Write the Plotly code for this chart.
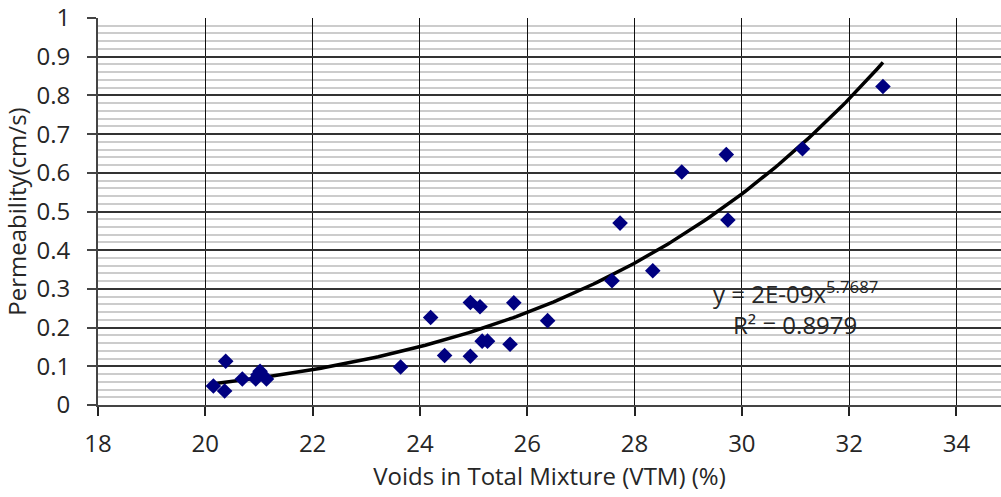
import numpy as np
import plotly.graph_objects as go

# Data
vtm = [20.15, 20.38, 20.36, 20.69, 20.94, 21.02, 20.98, 21.14,
       23.64, 24.20, 24.46, 24.94, 24.94, 25.12, 25.16, 25.26, 25.68, 25.75,
       26.38, 27.58, 27.73, 28.34, 28.88, 29.71, 29.74, 31.13, 32.63]
perm = [0.049, 0.113, 0.036, 0.067, 0.067, 0.087, 0.078, 0.067,
        0.098, 0.226, 0.128, 0.265, 0.126, 0.254, 0.165, 0.165, 0.157, 0.264,
        0.218, 0.321, 0.470, 0.347, 0.602, 0.647, 0.478, 0.662, 0.823]

eq_text = "y = 2E-09x<sup>5.7687</sup>"
r2_text = "R² = 0.8979"
x_title = "Voids in Total Mixture (VTM) (%)"
y_title = "Permeability(cm/s)"

# Power trendline fitted to the data (least squares in log-log space)
x_arr = np.array(vtm)
y_arr = np.array(perm)
b, ln_a = np.polyfit(np.log(x_arr), np.log(y_arr), 1)
xf = np.linspace(x_arr.min(), x_arr.max(), 200)
yf = np.exp(ln_a) * xf ** b

FONT = "Open Sans"
TXT = "#262626"
FS = 24

fig = go.Figure()
fig.add_trace(go.Scatter(x=xf, y=yf, mode="lines",
                         line=dict(color="black", width=3.5),
                         hoverinfo="skip", showlegend=False))
fig.add_trace(go.Scatter(x=vtm, y=perm, mode="markers",
                         marker=dict(symbol="diamond", size=12, color="#000080"),
                         showlegend=False))

fig.add_annotation(x=29.42, y=0.292, text=eq_text, showarrow=False,
                   xanchor="left", yanchor="middle",
                   font=dict(family=FONT, size=FS, color=TXT))
fig.add_annotation(x=29.8, y=0.207, text=r2_text, showarrow=False,
                   xanchor="left", yanchor="middle",
                   font=dict(family=FONT, size=FS, color=TXT))

fig.update_layout(
    width=1001, height=497,
    margin=dict(l=98, r=0, t=16, b=92),
    paper_bgcolor="white", plot_bgcolor="white",
    font=dict(family=FONT, size=FS, color=TXT),
)
fig.update_xaxes(
    range=[18, 34.83], dtick=2, tick0=18,
    showgrid=True, gridcolor="#111111", gridwidth=1,
    ticks="outside", ticklen=9, tickcolor="#222222", tickwidth=1.5,
    showline=True, linecolor="#444444", linewidth=2,
    zeroline=False, ticklabelstandoff=7, ticklabeloverflow="allow",
    tickfont=dict(family=FONT, size=FS, color=TXT),
    title=dict(text=x_title, font=dict(family=FONT, size=FS, color=TXT), standoff=6),
)
fig.update_yaxes(
    range=[0, 1], dtick=0.1, tick0=0,
    showgrid=True, gridcolor="#333333", gridwidth=1.5,
    minor=dict(dtick=0.02, showgrid=True, gridcolor="#cccccc", gridwidth=2),
    ticks="outside", ticklen=9, tickcolor="#444444", tickwidth=1.5,
    showline=True, linecolor="#444444", linewidth=2,
    zeroline=False, ticklabelstandoff=12, ticklabeloverflow="allow",
    tickfont=dict(family=FONT, size=FS, color=TXT),
    title=dict(text=y_title, font=dict(family=FONT, size=FS, color=TXT), standoff=4),
)

fig.write_html("out.html")
